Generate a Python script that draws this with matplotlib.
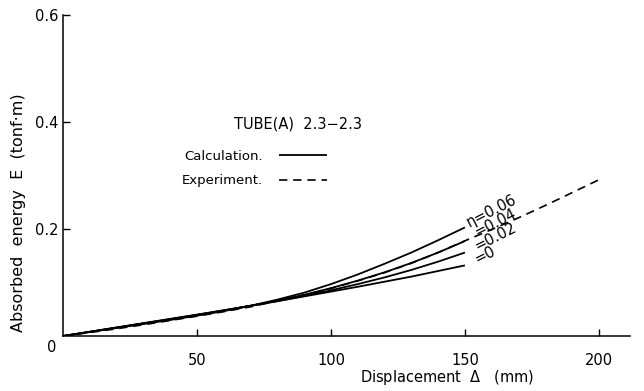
import matplotlib
matplotlib.use("Agg")
import matplotlib.pyplot as plt

plt.rcParams["font.family"] = ["DejaVu Sans"]
plt.rcParams["mathtext.fontset"] = "dejavusans"

# Displacement (mm) at which the calculated curves are read
disp_calc = [0, 10, 20, 30, 40, 50, 60, 70, 80, 90, 100, 110, 120, 130, 140, 150]

# Calculated absorbed energy (tonf*m) for each eta
calc_eta = ["0.06", "0.04", "0.02", "0"]
calc_E = {
    "0.06": [0, .0075, .015, .0225, .030, .038, .0465, .0565, .068, .081, .097, .115, .135, .156, .179, .203],
    "0.04": [0, .0077, .0155, .0233, .031, .039, .0475, .0565, .066, .077, .0895, .1035, .119, .1365, .156, .1775],
    "0.02": [0, .0078, .0157, .0236, .0315, .0395, .048, .0565, .0655, .075, .0855, .097, .1095, .1235, .139, .156],
    "0":    [0, .008, .016, .024, .032, .040, .048, .0565, .065, .074, .083, .092, .1015, .111, .1215, .132],
}

# Experimental curve
disp_exp = [0, 10, 20, 30, 40, 50, 60, 70, 80, 90, 100, 110, 120, 130, 140, 150, 160, 170, 180, 190, 200]
E_exp = [0, .0065, .0135, .021, .029, .037, .0455, .0545, .0655, .0765, .089, .103, .1185, .136, .156, .178,
         .199, .221, .244, .268, .292]

# Labels beside the end of each calculated curve: (x, y) in data units
eta_label_text = ["η=0.06", "=0.04", "=0.02", "=0"]
eta_label_pos = [(160.0, .233), (161.3, .211), (161.4, .185), (157.5, .151)]

x_ticks = [50, 100, 150, 200]
y_ticks = [0.2, 0.4, 0.6]

fig = plt.figure(figsize=(6.44, 3.91), dpi=100)
ax = fig.add_axes([63 / 644, 1 - 336 / 391, 567 / 644, 321 / 391])

for i, key in enumerate(calc_eta):
    ax.plot(disp_calc, calc_E[key], color="black", lw=1.3,
            label="Calculation." if i == 0 else None, solid_capstyle="butt")
ax.plot(disp_exp, E_exp, color="black", lw=1.2, ls=(0, (5, 3.5)), label="Experiment.")

for txt, (x, y) in zip(eta_label_text, eta_label_pos):
    ax.text(x, y, txt, rotation=27, rotation_mode="anchor", ha="center", va="center",
            fontsize=10.5)

ax.set_xlim(0, 211.6)
ax.set_ylim(0, 0.6)
ax.set_xticks(x_ticks)
ax.set_yticks(y_ticks)
ax.set_yticklabels([f"{v:.1f}" for v in y_ticks])
ax.tick_params(axis="x", direction="in", length=5, width=1, pad=12, labelsize=10.5)
ax.tick_params(axis="y", direction="in", length=5, width=1, pad=3, labelsize=10.5)
for s in ["top", "right"]:
    ax.spines[s].set_visible(False)
for s in ["left", "bottom"]:
    ax.spines[s].set_linewidth(1.1)

# shared origin label
ax.text(-4.2, -0.0224, "0", ha="center", va="center", fontsize=10.5, clip_on=False)

ax.set_xlabel(r"Displacement  $\mathit{\Delta}$   (mm)", fontsize=10.5)
ax.xaxis.set_label_coords(0.678, -0.130)
ax.xaxis.label.set_va("center")
ax.set_ylabel("Absorbed  energy  E  (tonf·m)", fontsize=11.5)
ax.yaxis.set_label_coords(-0.079, 0.385)
ax.yaxis.label.set_va("center")

ax.text(0.414, (336 - 124) / 321, "TUBE(A)  2.3−2.3", transform=ax.transAxes,
        ha="center", va="center", fontsize=10.5)
ax.legend(loc="upper left", bbox_to_anchor=(0.21, (336 - 150) / 321), frameon=False,
          markerfirst=False, handlelength=3.6, handletextpad=1.2, labelspacing=0.85,
          fontsize=9.5, borderpad=0, borderaxespad=0)

fig.savefig("out.png", dpi=100)
